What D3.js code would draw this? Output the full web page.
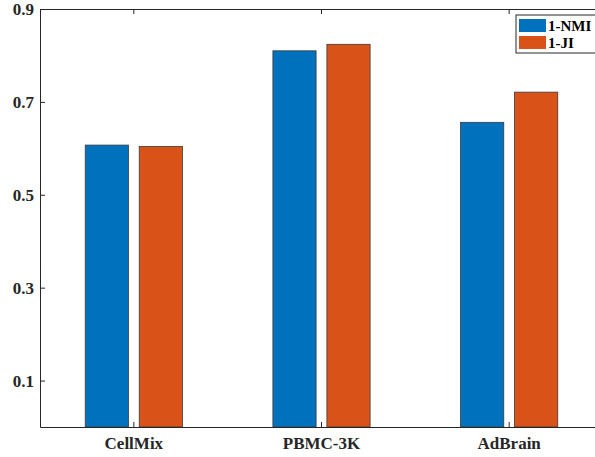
<!DOCTYPE html>
<html>
<head>
<meta charset="utf-8">
<script src="https://cdn.jsdelivr.net/npm/d3@7"></script>
<style>
  body { margin: 0; background: #fff; }
  text { font-family: "Liberation Serif", "Times New Roman", serif; font-weight: bold; fill: #262626; }
</style>
</head>
<body>
<svg id="chart"></svg>
<script>
(function() {
  'use strict';

var categories = ['CellMix', 'PBMC-3K', 'AdBrain'];
var series = ['1-NMI', '1-JI'];
var nmi = [0.607, 0.810, 0.656];
var ji = [0.604, 0.824, 0.721];
var yTicks = [0.1, 0.3, 0.5, 0.7, 0.9];
var colors = ['#0072BD', '#D95319'];

var width = 595,
    height = 457;

var margin = {top: 9, left: 40, bottom: 30};
var plotRight = 603;
var plotBottom = height - margin.bottom;

var svg = d3.select('#chart')
    .attr('width', width)
    .attr('height', height);

var x = d3.scaleBand()
    .domain(categories)
    .range([margin.left, plotRight])
    .paddingInner(0)
    .paddingOuter(0);

var half = 48.6;
var xs = d3.scaleBand()
    .domain(series)
    .range([x.bandwidth() / 2 - half, x.bandwidth() / 2 + half])
    .paddingInner(0.2);

var y = d3.scaleLinear()
    .domain([0, 0.9])
    .range([plotBottom, margin.top]);

var rows = categories.map(function(c, i) {
  return {name: c, values: [nmi[i], ji[i]]};
});

// bars
var group = svg.selectAll('.grp')
    .data(rows)
  .enter().append('g')
    .attr('class', 'grp')
    .attr('transform', function(d) { return 'translate(' + x(d.name) + ',0)'; });

group.selectAll('rect')
    .data(function(d) { return d.values.map(function(v, j) { return {key: series[j], value: v, j: j}; }); })
  .enter().append('rect')
    .attr('x', function(d) { return xs(d.key); })
    .attr('y', function(d) { return y(d.value); })
    .attr('width', xs.bandwidth())
    .attr('height', function(d) { return plotBottom - y(d.value); })
    .attr('fill', function(d) { return colors[d.j]; })
    .attr('stroke', '#3a3a3a')
    .attr('stroke-width', 0.8);

// axes
var yAxis = d3.axisLeft(y)
    .tickValues(yTicks)
    .tickSizeInner(-5)
    .tickSizeOuter(0)
    .tickPadding(6)
    .tickFormat(d3.format('.1f'));

var gy = svg.append('g')
    .attr('transform', 'translate(' + margin.left + ',0)')
    .call(yAxis);
gy.selectAll('text').style('font-size', '17px').attr('x', -6);

var xAxis = d3.axisBottom(x)
    .tickSizeInner(-5)
    .tickSizeOuter(0)
    .tickPadding(9);

var gx = svg.append('g')
    .attr('transform', 'translate(0,' + plotBottom + ')')
    .call(xAxis);
gx.selectAll('text').style('font-size', '17px').attr('y', 10);

var gt = svg.append('g')
    .attr('transform', 'translate(0,' + margin.top + ')')
    .call(d3.axisTop(x).tickSizeInner(-5).tickSizeOuter(0).tickFormat(''));

svg.selectAll('.domain, .tick line')
    .attr('stroke', '#262626')
    .attr('stroke-width', 1);
svg.selectAll('.tick text').attr('fill', '#262626');

// legend
var legend = svg.append('g')
    .attr('transform', 'translate(516,15)');

legend.append('rect')
    .attr('width', 86)
    .attr('height', 38)
    .attr('fill', '#fff')
    .attr('stroke', '#262626')
    .attr('stroke-width', 1);

var item = legend.selectAll('.item')
    .data(series)
  .enter().append('g')
    .attr('class', 'item')
    .attr('transform', function(d, i) { return 'translate(3,' + (4 + i * 17) + ')'; });

item.append('rect')
    .attr('width', 27)
    .attr('height', 13)
    .attr('fill', function(d, i) { return colors[i]; });

item.append('text')
    .attr('x', 29)
    .attr('y', 7)
    .attr('dy', '0.35em')
    .style('font-size', '15px')
    .style('fill', '#000')
    .text(function(d) { return d; });
}());
</script>
</body>
</html>
